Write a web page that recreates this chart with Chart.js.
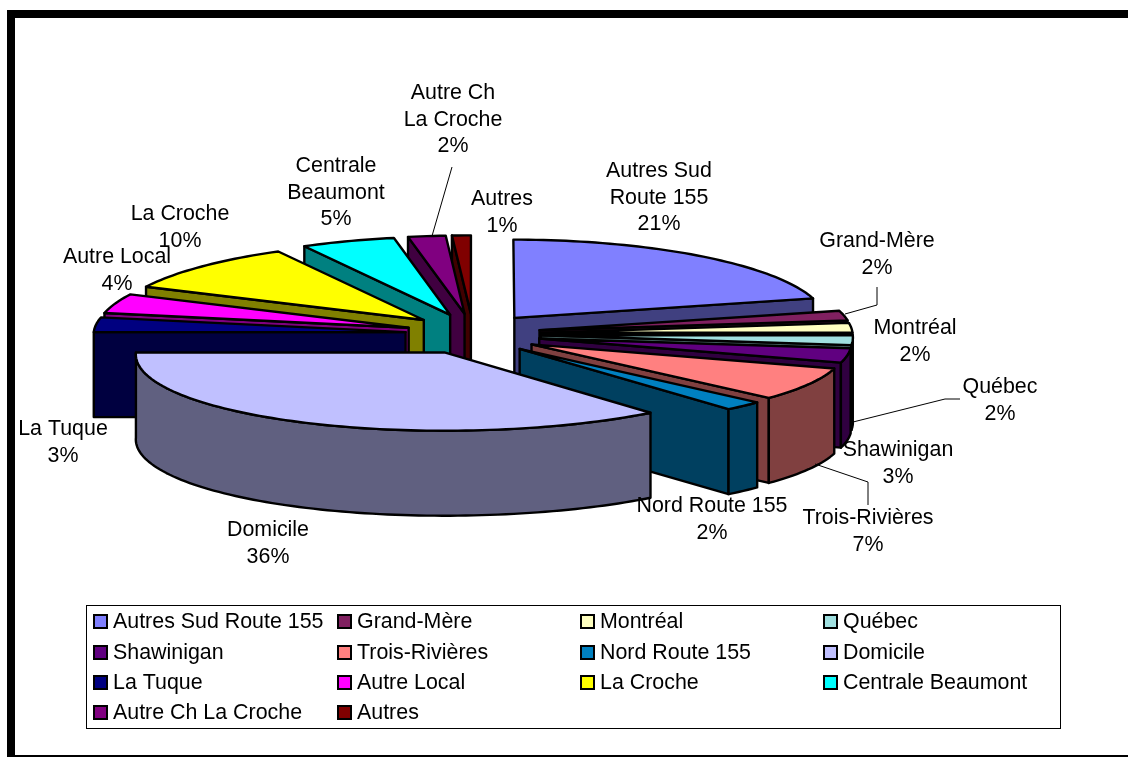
<!DOCTYPE html>
<html><head><meta charset="utf-8">
<style>html,body{margin:0;padding:0;background:#fff}canvas{display:block}</style>
<script src="https://cdn.jsdelivr.net/npm/chart.js@4"></script>
</head><body>
<canvas id="c" width="1128" height="757"></canvas>
<script>
const categories = ["Autres Sud Route 155","Grand-Mère","Montréal","Québec","Shawinigan","Trois-Rivières","Nord Route 155","Domicile","La Tuque","Autre Local","La Croche","Centrale Beaumont","Autre Ch La Croche","Autres"];
const shares = [21,2,2,2,3,7,2,36,3,4,10,5,2,1];
const topColors = ["#8080FF","#802060","#FFFFC0","#A0E0E0","#600080","#FF8080","#0080C0","#C0C0FF","#000080","#FF00FF","#FFFF00","#00FFFF","#800080","#800000"];
const sideColors = ["#404080","#401030","#808060","#507070","#300040","#804040","#004060","#606080","#000040","#800080","#808000","#008080","#400040","#400000"];
const dataLabelLines = [["Autres Sud","Route 155"],["Grand-Mère"],["Montréal"],["Québec"],["Shawinigan"],["Trois-Rivières"],["Nord Route 155"],["Domicile"],["La Tuque"],["Autre Local"],["La Croche"],["Centrale","Beaumont"],["Autre Ch","La Croche"],["Autres"]];
const paintOrder = [0,1,2,3,4,5,6,13,12,11,10,9,8,7];

const labelAnchors = [[659,171],[877,241],[915,328],[1000,387],[898,450],[868,518],[712,506],[268,530],[63,429],[117,257],[180,214],[336,166],[453,93],[502,199]];
const leaderLines = [[[877,287],[877,305],[845,314]],[[853,422],[945,399],[960,399]],[[815,464],[868,482],[868,505]],[[432,236],[452,167]]];
const legendColumns = [94,338,581,824];
const legendRows = [621,652,682,712];

const SQUASH = 0.25, EXPLODE_Y = 0.3, DEPTH = 85, LINE = 2.4, HORIZON = 345, K_BACK = 0.0003, K_FRONT = 0.0006;
const FONT = '21.4px "Liberation Sans", Arial, sans-serif';

const pie3d = {
  id: 'pie3d',
  beforeDraw(chart){
    const c = chart.ctx;
    c.save();
    c.fillStyle = '#fff'; c.fillRect(0,0,1128,757);
    c.fillStyle = '#000';
    c.fillRect(7,10,1121,8);
    c.fillRect(7,10,8,747);
    c.fillRect(7,755,1121,2);
    c.restore();
  },
  beforeDatasetDraw(chart){
    const c = chart.ctx, arcs = chart.getDatasetMeta(0).data;
    c.save();
    c.lineJoin = 'round'; c.lineWidth = LINE; c.strokeStyle = '#000';
    paintOrder.forEach(i => {
      const a = arcs[i];
      const off = a.options.offset, mid = (a.startAngle + a.endAngle)/2;
      const rx = a.outerRadius, ry = rx*SQUASH;
      // flat position of a point on the slice, then a light perspective stretch towards the viewer
      const project = (fx, fy, d) => {
        let s;
        if (fy < HORIZON) s = 1 + K_BACK*(fy - HORIZON);
        else if (fx < a.x) s = 1 + K_BACK*(fy - 400);
        else s = 1 + K_FRONT*(fy - HORIZON);
        return [a.x + (fx - a.x)*s, fy + d];
      };
      const cx = a.x + Math.cos(mid)*off, cy = a.y + Math.sin(mid)*off*EXPLODE_Y;
      const rim = (t, d) => project(cx + rx*Math.cos(t), cy + ry*Math.sin(t), d);
      const apex = d => project(cx, cy, d);
      const rimPath = (from, to, d, first) => {
        const n = Math.max(2, Math.ceil(Math.abs(to-from)*40));
        for (let j=0;j<=n;j++){
          const p = rim(from + (to-from)*j/n, d);
          if (j===0 && first) c.moveTo(p[0],p[1]); else c.lineTo(p[0],p[1]);
        }
      };
      const paint = col => { c.closePath(); c.fillStyle = col; c.fill(); c.stroke(); };
      // cut faces, only those turned to the viewer
      const face = t => {
        const p0 = apex(0), p1 = rim(t,0), p2 = rim(t,DEPTH), p3 = apex(DEPTH);
        c.beginPath(); c.moveTo(p0[0],p0[1]); c.lineTo(p1[0],p1[1]); c.lineTo(p2[0],p2[1]); c.lineTo(p3[0],p3[1]);
        paint(sideColors[i]);
      };
      if (Math.cos(a.startAngle) < 0) face(a.startAngle);
      if (Math.cos(a.endAngle) > 0) face(a.endAngle);
      // outer wall: the parts of the rim that face the viewer
      const s = Math.max(a.startAngle,0), e = Math.min(a.endAngle,Math.PI);
      if (e > s) {
        c.beginPath();
        rimPath(s,e,0,true);
        rimPath(e,s,DEPTH,false);
        paint(sideColors[i]);
      }
      // top
      const ap = apex(0);
      c.beginPath();
      c.moveTo(ap[0],ap[1]);
      rimPath(a.startAngle,a.endAngle,0,false);
      paint(a.options.backgroundColor);
    });
    c.restore();
    return false;
  },
  afterDatasetsDraw(chart){
    const c = chart.ctx, vals = chart.data.datasets[0].data;
    c.save();
    c.strokeStyle = '#000'; c.lineWidth = 1;
    leaderLines.forEach(l => { c.beginPath(); l.forEach((p,k)=> k?c.lineTo(p[0],p[1]):c.moveTo(p[0],p[1])); c.stroke(); });
    c.font = FONT; c.fillStyle = '#000'; c.textAlign='center'; c.textBaseline='middle';
    dataLabelLines.forEach((lines,i) => {
      const [x,y] = labelAnchors[i];
      [...lines, vals[i]+'%'].forEach((t,k) => c.fillText(t,x,y+k*26.8));
    });
    // legend box
    c.fillStyle='#fff'; c.fillRect(86,605,974,123);
    c.strokeStyle='#000'; c.lineWidth=1; c.strokeRect(86.5,605.5,974,123);
    c.textAlign='left';
    chart.data.labels.forEach((t,i) => {
      const col = legendColumns[i%4], row = legendRows[Math.floor(i/4)];
      c.fillStyle = topColors[i]; c.fillRect(col,row-6,13,13);
      c.strokeStyle='#000'; c.lineWidth=2; c.strokeRect(col,row-6,13,13);
      c.fillStyle='#000'; c.fillText(t,col+19,row+1);
    });
    c.restore();
  }
};

new Chart(document.getElementById('c'), {
  type:'pie',
  data:{labels:categories,datasets:[{data:shares,backgroundColor:topColors,offset:68,borderWidth:0,clip:false}]},
  options:{
    responsive:false,animation:false,radius:313,rotation:0,
    layout:{padding:{left:0,right:182,top:2,bottom:91}},
    plugins:{legend:{display:false},tooltip:{enabled:false}}
  },
  plugins:[pie3d]
});
</script>
</body></html>
